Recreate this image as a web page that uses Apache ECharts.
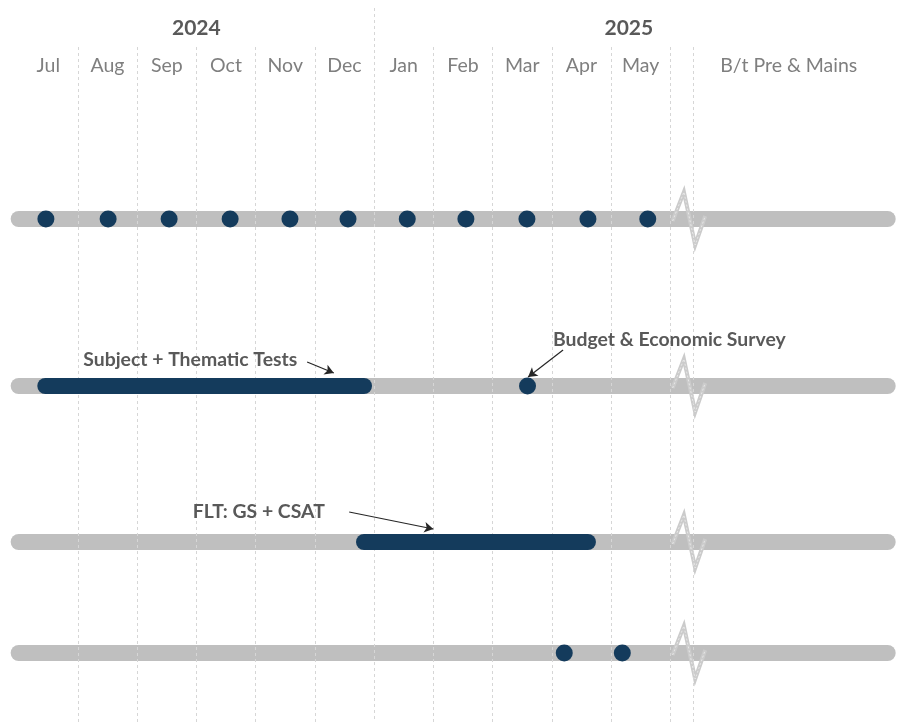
<!DOCTYPE html>
<html><head><meta charset="utf-8">
<script src="https://cdn.jsdelivr.net/npm/echarts@6/dist/echarts.min.js"></script>
<style>html,body{margin:0;padding:0;background:#fff}#c{width:899px;height:722px}</style>
</head><body><div id="c"></div>
<script>
// ---------- data ----------
const months = ['Jul','Aug','Sep','Oct','Nov','Dec','Jan','Feb','Mar','Apr','May'];
const extraColumn = 'B/t Pre & Mains';
const years = ['2024', '2025'];
const yearCenters = [3.0, 10.3];          // month-axis position of the year headings
const extraColumnCenter = 13.0;
const breakAt = 11.39;                    // end of the gap column
const trackSpan = [0, 14.67];             // grey track, month units
const row1Dots = [0.46, 1.51, 2.54, 3.57, 4.58, 5.56, 6.56, 7.55, 8.58, 9.61, 10.62];
const row2Bar = [0.45, 5.83];
const row2Dots = [8.59];
const row3Bar = [5.83, 9.61];
const row4Dots = [9.21, 10.19];
const labelTexts = ['Subject + Thematic Tests', 'Budget & Economic Survey', 'FLT: GS + CSAT'];
const labelStarts = [1.09, 9.02, 2.94];
const arrowFrom = [4.87, 9.19, 5.58];
const arrowTo = [5.32, 8.60, 7.00];

// ---------- layout (pixel rows, offsets) ----------
const ROW_Y = [219, 386, 542, 653];
const HEAD_Y = 28, MONTH_Y = 66;
const LABEL_Y = [360, 340, 512];
const ARROW_Y = [[362, 373], [350, 377], [512, 529]];
const ZIG_X = [11.04, 11.23, 11.42, 11.59];
const ZIG_DY = [2, -27, 26, -3];

const DARK = '#143B5C', TRACK = '#BFBFBF', FONT = 'Lato';

const series = [];
// grid lines (dashed)
const vlines = [];
for (let i = 1; i <= months.length; i++) vlines.push([{coord: [i, i === 6 ? 8 : 47]}, {coord: [i, 722]}]);
vlines.push([{coord: [breakAt, 47]}, {coord: [breakAt, 722]}]);
series.push({type: 'line', data: [], z: 1, silent: true,
  markLine: {silent: true, symbol: ['none', 'none'], label: {show: false},
    lineStyle: {color: '#D6D6D6', type: [3, 3], width: 1}, data: vlines}});

// tracks
ROW_Y.forEach(y => series.push({type: 'line', z: 2, silent: true, symbol: 'none',
  data: trackSpan.map(v => [v, y]), lineStyle: {color: TRACK, width: 16, cap: 'round'}}));

// break zigzags
ROW_Y.forEach(y => {
  const pts = ZIG_X.map((x, k) => [x, y + ZIG_DY[k]]);
  series.push({type: 'line', z: 3, silent: true, symbol: 'none', data: pts,
    lineStyle: {color: '#CBCBCB', width: 4, join: 'miter'}});
  series.push({type: 'line', z: 4, silent: true, symbol: 'none', data: pts,
    lineStyle: {color: '#FFFFFF', width: 1, type: [2, 2], opacity: 0.55}});
});

// dark bars
[[row2Bar, ROW_Y[1]], [row3Bar, ROW_Y[2]]].forEach(([b, y]) => series.push({type: 'line', z: 5, silent: true,
  symbol: 'none', data: b.map(v => [v, y]), lineStyle: {color: DARK, width: 16, cap: 'round'}}));

// dots
const dotData = [];
row1Dots.forEach(v => dotData.push([v, ROW_Y[0]]));
row2Dots.forEach(v => dotData.push([v, ROW_Y[1]]));
row4Dots.forEach(v => dotData.push([v, ROW_Y[3]]));
series.push({type: 'scatter', z: 6, silent: true, symbolSize: 17, itemStyle: {color: DARK, opacity: 1}, data: dotData});

// headings
const textItem = {opacity: 1};
series.push({type: 'scatter', z: 7, silent: true, symbolSize: 0, itemStyle: textItem,
  data: years.map((t, i) => ({value: [yearCenters[i], HEAD_Y], name: t})),
  label: {show: true, position: 'inside', formatter: p => p.name, color: '#595959',
    fontFamily: FONT, fontWeight: 'bold', fontSize: 21}});
const monthData = months.map((m, i) => ({value: [i + 0.5, MONTH_Y], name: m}));
monthData.push({value: [extraColumnCenter, MONTH_Y], name: extraColumn});
series.push({type: 'scatter', z: 7, silent: true, symbolSize: 0, itemStyle: textItem, data: monthData,
  label: {show: true, position: 'inside', formatter: p => p.name, color: '#7F7F7F',
    fontFamily: FONT, fontSize: 19.5}});

// annotations
series.push({type: 'scatter', z: 7, silent: true, symbolSize: 0, itemStyle: textItem,
  data: labelTexts.map((t, i) => ({value: [labelStarts[i], LABEL_Y[i]], name: t})),
  label: {show: true, position: 'right', distance: 0, formatter: p => p.name, color: '#595959',
    fontFamily: FONT, fontWeight: 'bold', fontSize: 19.4}});
series.push({type: 'line', data: [], z: 8, silent: true,
  markLine: {silent: true, symbol: ['none', 'arrow'], symbolSize: [8, 9], label: {show: false},
    lineStyle: {color: '#262626', width: 1.2, type: 'solid', opacity: 1},
    data: labelTexts.map((t, i) => [{coord: [arrowFrom[i], ARROW_Y[i][0]]}, {coord: [arrowTo[i], ARROW_Y[i][1]]}])}});

const chart = echarts.init(document.getElementById('c'), null, {renderer: 'canvas'});
chart.setOption({
  animation: false,
  grid: {left: 0, right: 0, top: 0, bottom: 0},
  xAxis: {type: 'value', min: -0.315, max: 14.861, show: false},
  yAxis: {type: 'value', min: 0, max: 722, inverse: true, show: false},
  series: series
});
</script></body></html>
